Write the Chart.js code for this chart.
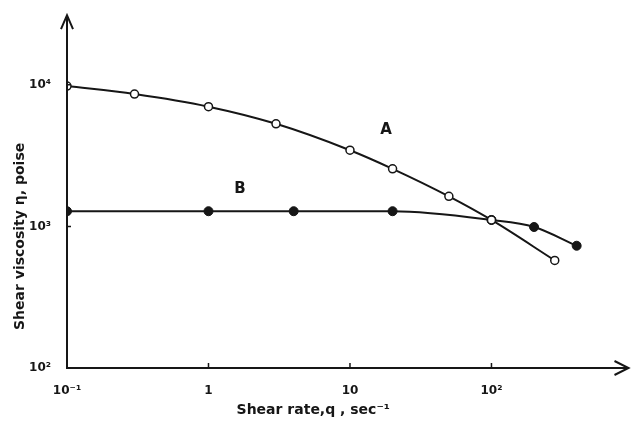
<!DOCTYPE html>
<html>
<head>
<meta charset="utf-8">
<script src="https://cdn.jsdelivr.net/npm/chart.js@4"></script>
<style>
  html, body { margin: 0; padding: 0; background: #fff; }
  #wrap { width: 634px; height: 421px; }
</style>
</head>
<body>
<div id="wrap"><canvas id="chart"></canvas></div>
<script>
"use strict"

// shear rate (sec^-1) for each measured point
const rateA = [0.1, 0.3, 1, 3, 10, 20, 50, 100, 280];
const viscA = [9800, 8600, 7000, 5300, 3450, 2550, 1630, 1110, 575];

const rateB = [0.1, 1, 4, 20, 100, 200, 400];
const viscB = [1280, 1280, 1280, 1280, 1110, 990, 730];

const xTicks = [0.1, 1, 10, 100];
const xTickLabels = ["10⁻¹", "1", "10", "10²"];
const yTicks = [100, 1000, 10000];
const yTickLabels = ["10²", "10³", "10⁴"];

const ink = "#161616";
const font = "'DejaVu Sans', sans-serif";

const toPoints = (xs, ys) => xs.map((x, i) => ({ x: x, y: ys[i] }));

// axes with arrows, small inward ticks, axis titles and the A / B labels
const decorations = {
  id: "decorations",
  afterDraw(chart) {
    const ctx = chart.ctx;
    const a = chart.chartArea;
    const sx = chart.scales.x;
    const sy = chart.scales.y;
    ctx.save();
    ctx.strokeStyle = ink;
    ctx.fillStyle = ink;
    ctx.lineWidth = 2;

    // axis lines
    ctx.beginPath();
    ctx.moveTo(a.left, a.top);
    ctx.lineTo(a.left, a.bottom);
    ctx.lineTo(a.right, a.bottom);
    ctx.stroke();

    // arrow heads
    ctx.beginPath();
    ctx.moveTo(a.left - 6, a.top + 14);
    ctx.lineTo(a.left, a.top);
    ctx.lineTo(a.left + 6, a.top + 14);
    ctx.moveTo(a.right - 14, a.bottom - 7);
    ctx.lineTo(a.right, a.bottom);
    ctx.lineTo(a.right - 14, a.bottom + 7);
    ctx.stroke();

    // ticks
    ctx.lineWidth = 1.5;
    ctx.beginPath();
    xTicks.slice(1).forEach(v => {
      const px = sx.getPixelForValue(v);
      ctx.moveTo(px, a.bottom);
      ctx.lineTo(px, a.bottom - 5);
    });
    yTicks.forEach(v => {
      const py = sy.getPixelForValue(v);
      ctx.moveTo(a.left, py);
      ctx.lineTo(a.left + 4, py);
    });
    ctx.stroke();

    // axis titles
    ctx.font = "bold 14px " + font;
    ctx.textAlign = "center";
    ctx.textBaseline = "middle";
    ctx.fillText("Shear rate,q , sec⁻¹", sx.getPixelForValue(5.5), a.bottom + 42);

    ctx.save();
    ctx.translate(20, sy.getPixelForValue(850));
    ctx.rotate(-Math.PI / 2);
    ctx.fillText("Shear viscosity η, poise", 0, 0);
    ctx.restore();

    // curve labels
    ctx.font = "bold 15px " + font;
    ctx.fillText("A", sx.getPixelForValue(18), sy.getPixelForValue(4800));
    ctx.fillText("B", sx.getPixelForValue(1.67), sy.getPixelForValue(1825));
    ctx.restore();
  }
};

const config = {
  type: "line",
  data: {
    datasets: [{
      label: "A",
      data: toPoints(rateA, viscA),
      borderColor: ink,
      borderWidth: 2,
      cubicInterpolationMode: "monotone",
      pointRadius: 4,
      pointBorderWidth: 1.5,
      pointBackgroundColor: "#fff",
      pointBorderColor: ink,
    }, {
      label: "B",
      data: toPoints(rateB, viscB),
      borderColor: ink,
      borderWidth: 2,
      cubicInterpolationMode: "monotone",
      pointRadius: 4.5,
      pointBorderWidth: 1,
      pointBackgroundColor: ink,
      pointBorderColor: ink,
    }]
  },
  options: {
    responsive: true,
    maintainAspectRatio: false,
    animation: false,
    layout: { padding: { left: 0, right: 2, top: 10, bottom: 0 } },
    plugins: {
      legend: { display: false },
      tooltip: { enabled: false },
    },
    scales: {
      x: {
        type: "logarithmic",
        min: 0.1,
        max: 930,
        afterBuildTicks: s => { s.ticks = xTicks.map(v => ({ value: v })); },
        afterFit: s => { s.height = 53; },
        grid: { display: false },
        border: { display: false },
        ticks: {
          autoSkip: false,
          maxRotation: 0,
          padding: 8,
          color: ink,
          font: { family: font, size: 12, weight: "bold" },
          callback: (v, i) => xTickLabels[i],
        },
      },
      y: {
        type: "logarithmic",
        min: 100,
        max: 31000,
        afterBuildTicks: s => { s.ticks = yTicks.map(v => ({ value: v })); },
        afterFit: s => { s.width = 67; },
        grid: { display: false },
        border: { display: false },
        ticks: {
          autoSkip: false,
          padding: 8,
          color: ink,
          font: { family: font, size: 12, weight: "bold" },
          callback: (v, i) => yTickLabels[i],
        },
      },
    },
  },
  plugins: [decorations],
};

const canvas = document.querySelector("#chart");
const chart = new Chart(canvas, config);
</script>
</body>
</html>
